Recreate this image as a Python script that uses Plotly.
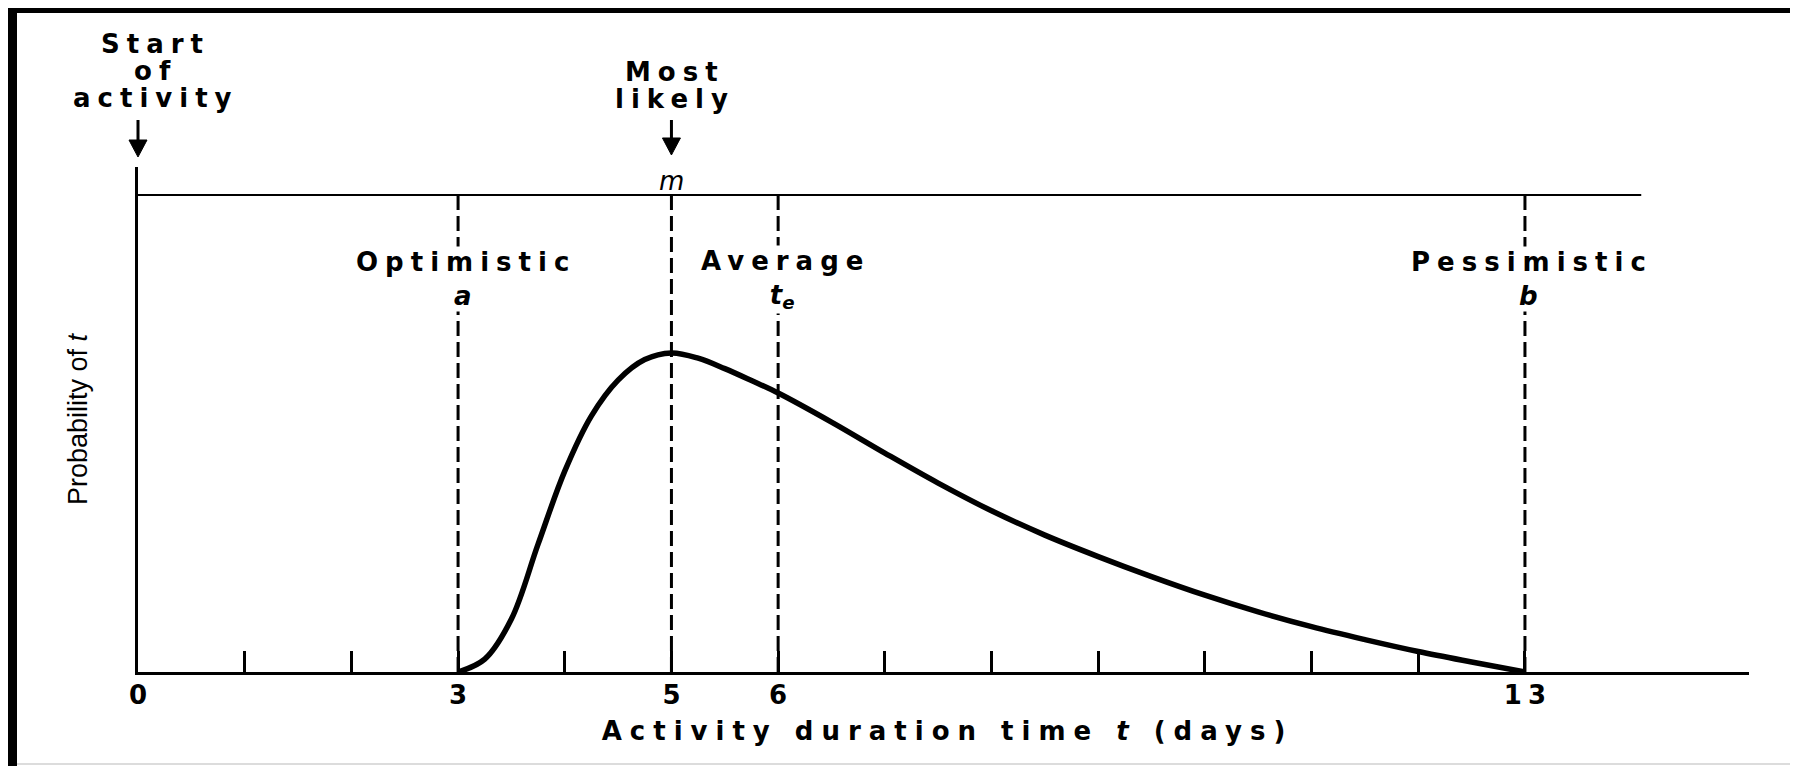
import plotly.graph_objects as go

# ---------------- data ----------------
curve_t = [3.0, 3.25, 3.5, 3.75, 4.0, 4.25, 4.5, 4.75, 5.0, 5.25, 5.5, 5.75, 6.0,
           6.5, 7.0, 7.5, 8.0, 8.5, 9.0, 9.5, 10.0, 10.5, 11.0, 11.5, 12.0, 12.5, 13.0]
curve_p = [0.0, 0.027, 0.111, 0.268, 0.421, 0.537, 0.612, 0.655, 0.669, 0.658,
           0.636, 0.611, 0.585, 0.524, 0.459, 0.396, 0.338, 0.287, 0.242, 0.200,
           0.161, 0.126, 0.095, 0.068, 0.043, 0.021, 0.0]

estimate_t = [3, 5, 6, 13]
estimate_names = ["Optimistic", "Most likely", "Average", "Pessimistic"]
estimate_symbols = ["a", "m", "t<sub>e</sub>", "b"]
start_t = 0
start_lines = ["Start", "of", "activity"]

label_vals = [0, 3, 5, 6, 13]
label_text = ["0", "3", "5", "6", "13"]
minor_vals = [1, 2, 4, 7, 8, 9, 10, 11, 12]

top_line_end = 14.09
x_title = "Activity duration time <i>t</i> (days)"
y_title = "Probability of <i>t</i>"

# ---------------- layout geometry (page pixels; body margin is 8px) ----------------
OFF = 8
PAGE_W, PAGE_H = 1798, 766
PL, PR, PT, PB = 138, 1749, 167, 672          # plot area in page pixels
W, H = PAGE_W - OFF, PAGE_H - OFF
ML, MT = PL - OFF, PT - OFF
MR, MB = W - (PR - OFF), H - (PB - OFF)
PW, PH = PR - PL, PB - PT
X_MAX = 15.1
Y_MAX = (PB - PT) / (PB - 195)

def paper_x(px):
    return (px - PL) / PW

def paper_y(py):
    return (PB - py) / PH

def data_to_paper_x(t):
    return t / X_MAX

FONT = "DejaVu Sans"
BLACK = "black"
FS = 26
LS = 7

def spaced(s, ls=LS):
    # letter-spacing on every character but the last, so the text stays centred
    return "<span style='letter-spacing:%spx'>%s</span>%s" % (ls, s[:-1], s[-1])

bold = dict(family=FONT, size=FS, color=BLACK, weight="bold")

fig = go.Figure()
fig.add_trace(go.Scatter(
    x=curve_t, y=curve_p, mode="lines",
    line=dict(color=BLACK, width=5.5, shape="spline", smoothing=1.0),
    cliponaxis=False, showlegend=False, hoverinfo="skip"))

shapes = []
shapes.append(dict(type="line", xref="x", yref="y", x0=0, x1=top_line_end, y0=1.0, y1=1.0,
                   line=dict(color=BLACK, width=2)))
for t in estimate_t:
    shapes.append(dict(type="line", xref="x", yref="y", x0=t, x1=t, y0=0, y1=1.0,
                       line=dict(color=BLACK, width=3, dash="15px,6px")))

def arrow(t, y_tail, y_tip, head_len=17, half_w=9):
    xp = data_to_paper_x(t)
    dx = half_w / PW
    yb = y_tip - head_len
    return [
        dict(type="line", xref="paper", yref="paper", x0=xp, x1=xp,
             y0=paper_y(y_tail), y1=paper_y(yb + 3), line=dict(color=BLACK, width=3)),
        dict(type="path", xref="paper", yref="paper",
             path="M %f,%f L %f,%f L %f,%f Z" % (xp - dx, paper_y(yb), xp + dx, paper_y(yb),
                                                 xp, paper_y(y_tip)),
             fillcolor=BLACK, line=dict(color=BLACK, width=1)),
    ]

shapes += arrow(start_t, 120, 157)
shapes += arrow(estimate_t[1], 120, 155)

# picture frame
shapes.append(dict(type="rect", xref="paper", yref="paper",
                   x0=paper_x(8), x1=paper_x(17), y0=paper_y(766), y1=paper_y(8),
                   fillcolor=BLACK, line=dict(width=0), layer="above"))
shapes.append(dict(type="rect", xref="paper", yref="paper",
                   x0=paper_x(8), x1=paper_x(1798), y0=paper_y(13), y1=paper_y(8),
                   fillcolor=BLACK, line=dict(width=0), layer="above"))
shapes.append(dict(type="line", xref="paper", yref="paper",
                   x0=paper_x(17), x1=paper_x(1798), y0=paper_y(764), y1=paper_y(764),
                   line=dict(color="#dcdcdc", width=2)))

annos = []
def label(x, py, text, font=bold, xshift=0, bg=None):
    d = dict(x=x, y=paper_y(py), xref="x", yref="paper", text=text, showarrow=False,
             font=font, xanchor="center", yanchor="middle", xshift=xshift, borderpad=0)
    if bg:
        d["bgcolor"] = bg
    annos.append(d)

# Start of activity
for line, py in zip(start_lines, [44, 71, 98]):
    label(start_t, py, spaced(line), xshift=14)
# Most likely
for line, py in zip(estimate_names[1].split(" "), [72, 99]):
    label(estimate_t[1], py, spaced(line))
label(estimate_t[1], 181, "<i>%s</i>" % estimate_symbols[1],
      font=dict(family=FONT, size=FS, color=BLACK))
# Optimistic / Average / Pessimistic (white boxes mask the dashed lines)
for i in (0, 2, 3):
    label(estimate_t[i], 279,
          spaced(estimate_names[i]) + "<br><i>%s</i>" % estimate_symbols[i],
          xshift=4, bg="white")

fig.update_layout(
    width=W, height=H,
    margin=dict(l=ML, r=MR, t=MT, b=MB, autoexpand=False),
    paper_bgcolor="white", plot_bgcolor="white",
    showlegend=False,
    shapes=shapes, annotations=annos,
    xaxis=dict(range=[0, X_MAX], autorange=False, showgrid=False, zeroline=False,
               showline=True, linecolor=BLACK, linewidth=3,
               ticks="inside", ticklen=21, tickwidth=2.5, tickcolor=BLACK,
               tickmode="array", tickvals=label_vals,
               ticktext=[spaced(s, 6) if len(s) > 1 else s for s in label_text],
               minor=dict(tickmode="array", tickvals=minor_vals, ticks="inside",
                          ticklen=21, tickwidth=2.5, tickcolor=BLACK, showgrid=False),
               tickfont=bold, ticklabelstandoff=-2,
               title=dict(text=spaced(x_title, 8), font=bold, standoff=13)),
    yaxis=dict(range=[0, Y_MAX], autorange=False, showgrid=False, zeroline=False,
               showline=True, linecolor=BLACK, linewidth=3,
               ticks="", showticklabels=False,
               title=dict(text=y_title, font=dict(family="Liberation Sans", size=27, color=BLACK),
                          standoff=40)),
)

fig.write_html("out.html")
